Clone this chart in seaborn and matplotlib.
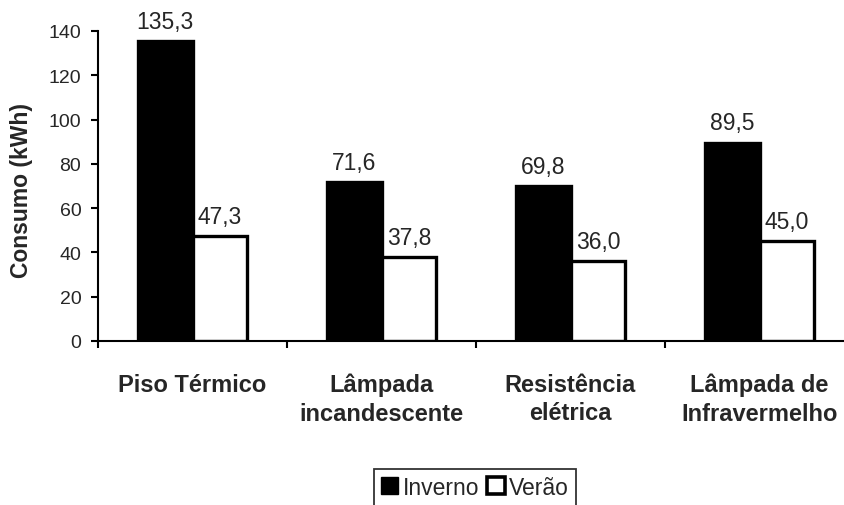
import matplotlib
matplotlib.use("Agg")
import matplotlib.pyplot as plt
from matplotlib.patches import Patch
import seaborn as sns
import pandas as pd

categorias = ["Piso Térmico", "Lâmpada\nincandescente", "Resistência\nelétrica", "Lâmpada de\nInfravermelho"]
inverno = [135.3, 71.6, 69.8, 89.5]
verao = [47.3, 37.8, 36.0, 45.0]
estacoes = ["Inverno", "Verão"]
y_ticks = [0, 20, 40, 60, 80, 100, 120, 140]

df = pd.DataFrame({
    "categoria": categorias * 2,
    "estacao": [estacoes[0]] * len(categorias) + [estacoes[1]] * len(categorias),
    "consumo": inverno + verao,
})

sns.set_theme(style="white")
plt.rcParams["font.family"] = ["Liberation Sans", "DejaVu Sans"]

fig = plt.figure(figsize=(8.44, 5.06), dpi=100)
ax = fig.add_axes([98 / 844, 1 - 342 / 506, 756 / 844, 310 / 506])

sns.barplot(
    data=df, x="categoria", y="consumo", hue="estacao", order=categorias,
    hue_order=estacoes, palette={"Inverno": "black", "Verão": "white"},
    width=0.58, edgecolor="black", linewidth=2.4, legend=False, ax=ax,
    errorbar=None,
)

for cont in ax.containers:
    vals = [b.get_height() for b in cont]
    ax.bar_label(cont, labels=[f"{v:.1f}".replace(".", ",") for v in vals],
                 padding=6, fontsize=16.5)

ax.set_xlim(-0.5, 3.5)
ax.set_ylim(0, 140)
ax.set_yticks(y_ticks)
ax.tick_params(axis="y", direction="out", length=5, width=1.5, color="black",
               labelsize=14, pad=7, left=True)

# category labels at centers, tick marks at the category boundaries
ax.set_xticks(range(len(categorias)))
ax.set_xticklabels(categorias, fontsize=17, fontweight="bold", linespacing=1.3)
ax.tick_params(axis="x", which="major", length=0, pad=23)
ax.set_xticks([i - 0.5 for i in range(len(categorias) + 1)], minor=True)
ax.tick_params(axis="x", which="minor", direction="out", length=5, width=1.5,
               color="black", bottom=True)

ax.set_xlabel("")
ax.set_ylabel("Consumo (kWh)", fontsize=16.5, fontweight="bold")
ax.yaxis.set_label_coords(-0.086, 0.49)

for side in ["top", "right"]:
    ax.spines[side].set_visible(False)
for side in ["left", "bottom"]:
    ax.spines[side].set_color("black")
    ax.spines[side].set_linewidth(1.5)

handles = [
    Patch(facecolor="black", edgecolor="black", linewidth=1.0),
    Patch(facecolor="white", edgecolor="black", linewidth=2.6),
]
leg = fig.legend(
    handles, estacoes, loc="upper center", bbox_to_anchor=(475 / 844, 1 - 470 / 506),
    ncol=2, fontsize=16.5, frameon=True, fancybox=False, handlelength=0.75,
    handleheight=0.75, handletextpad=0.2, columnspacing=0.35, borderpad=0.3,
    borderaxespad=0,
)
leg.get_frame().set_edgecolor("black")
leg.get_frame().set_linewidth(1.3)

fig.savefig("out.png", dpi=100, facecolor="white")
